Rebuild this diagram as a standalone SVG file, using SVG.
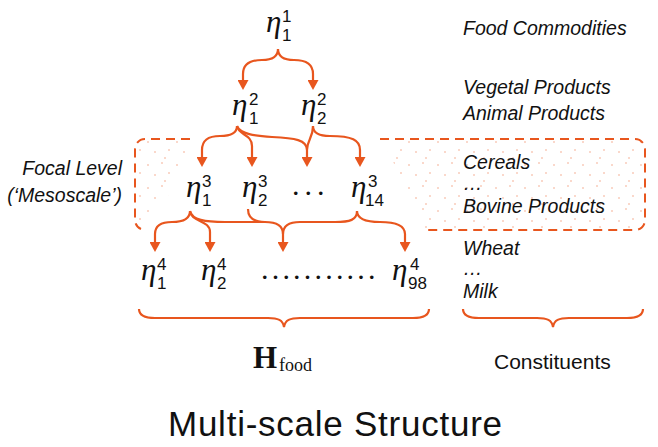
<svg xmlns="http://www.w3.org/2000/svg" width="658" height="447" viewBox="0 0 658 447">
<style>
.eta{font-family:"Liberation Serif","DejaVu Serif",serif;font-style:italic;font-size:31px;fill:#111}
.idx{font-family:"Liberation Sans","DejaVu Sans",sans-serif;font-size:17px;fill:#111}
.dots{font-family:"Liberation Serif",serif;font-size:30px;fill:#111}
.lbl{font-family:"Liberation Sans","DejaVu Sans",sans-serif;font-style:italic;font-size:19.5px;fill:#111}
.plain{font-family:"Liberation Sans","DejaVu Sans",sans-serif;font-size:21px;fill:#111}
.title{font-family:"Liberation Sans","DejaVu Sans",sans-serif;font-size:35px;fill:#111}
.conn{fill:none;stroke:#e8561e;stroke-width:2.2}
.brace{fill:none;stroke:#e8561e;stroke-width:2.2}
.focal{fill:none;stroke:#e8561e;stroke-width:2;stroke-dasharray:9 6}
</style>
<defs>
<marker id="ah" viewBox="0 0 10 11" refX="0" refY="5.5" markerWidth="10" markerHeight="11" markerUnits="userSpaceOnUse" orient="auto">
<path d="M0,0 L10,5.5 L0,11 z" fill="#e8561e"/>
</marker>
<pattern id="stip" width="29" height="23" patternUnits="userSpaceOnUse">
<g fill="#e8561e" opacity="0.65">
<circle cx="3" cy="4" r="0.7"/>
<circle cx="17" cy="2" r="0.7"/>
<circle cx="24" cy="12" r="0.7"/>
<circle cx="10" cy="14" r="0.7"/>
<circle cx="20" cy="20" r="0.7"/>
</g>
</pattern>
</defs>
<rect width="658" height="447" fill="#fff"/>

<g id="focal-level">
<polygon points="138,141 190,141 172,190 146,226 138,226" fill="url(#stip)"/>
<polygon points="383,141 643,141 643,228 425,228" fill="url(#stip)"/>
<path class="focal" d="M190,139 H145 A10,10 0 0 0 135,149 V220 A10,10 0 0 0 141,229"/>
<path class="focal" d="M380,139 H635 A10,10 0 0 1 645,149 V220 A10,10 0 0 1 635,230 H427"/>
</g>

<g id="connectors">
<path class="conn" d="M278,49 C278,57 272,60 262,60 C250,60 243,64 243,74 L243,80" marker-end="url(#ah)"/>
<path class="conn" d="M278,49 C278,57 284,60 294,60 C306,60 313,64 313,74 L313,80" marker-end="url(#ah)"/>

<path class="conn" d="M237,126 C237,133 230,136 220,136 C208,136 202,140 202,150 L202,157" marker-end="url(#ah)"/>
<path class="conn" d="M237,126 C238,135 252,134 252,146 L252,157" marker-end="url(#ah)"/>
<path class="conn" d="M237,126 C240,134 255,136 272,137 C295,138 307,140 307,150 L307,157" marker-end="url(#ah)"/>
<path class="conn" d="M313,126 C313,138 307,140 307,150"/>
<path class="conn" d="M313,126 C313,133 320,136 330,136 C352,136 360,140 360,150 L360,157" marker-end="url(#ah)"/>

<path class="conn" d="M190,211 C190,219 183,222 172,222 C161,222 155,226 155,234 L155,242" marker-end="url(#ah)"/>
<path class="conn" d="M190,211 C191,222 210,220 210,232 L210,242" marker-end="url(#ah)"/>
<path class="conn" d="M190,211 C192,220 205,222 225,222 L265,222 C277,222 283,226 283,234 L283,242" marker-end="url(#ah)"/>
<path class="conn" d="M248,209 C248,218 254,222 265,222"/>
<path class="conn" d="M357,211 C357,220 350,222 335,222 L300,222 C289,222 283,226 283,234"/>
<path class="conn" d="M357,211 C357,218 364,222 380,222 C398,222 405,226 405,234 L405,242" marker-end="url(#ah)"/>
</g>

<g id="n1_1"><text class="eta" x="266" y="32">η</text><text class="idx" x="282" y="22">1</text><text class="idx" x="282" y="41">1</text></g>
<g id="n2_1"><text class="eta" x="232" y="115">η</text><text class="idx" x="249" y="105">2</text><text class="idx" x="249" y="124">1</text></g>
<g id="n2_2"><text class="eta" x="301" y="115">η</text><text class="idx" x="317" y="105">2</text><text class="idx" x="317" y="124">2</text></g>
<g id="n3_1"><text class="eta" x="186" y="197">η</text><text class="idx" x="202" y="187">3</text><text class="idx" x="202" y="206">1</text></g>
<g id="n3_2"><text class="eta" x="242" y="197">η</text><text class="idx" x="258" y="187">3</text><text class="idx" x="258" y="206">2</text></g>
<g id="n3_dots"><text class="dots" x="292" y="195" letter-spacing="5">...</text></g>
<g id="n3_14"><text class="eta" x="351" y="197">η</text><text class="idx" x="368" y="187">3</text><text class="idx" x="365" y="206">14</text></g>
<g id="n4_1"><text class="eta" x="141" y="280">η</text><text class="idx" x="157" y="270">4</text><text class="idx" x="157" y="289">1</text></g>
<g id="n4_2"><text class="eta" x="201" y="280">η</text><text class="idx" x="217" y="270">4</text><text class="idx" x="217" y="289">2</text></g>
<g id="n4_dots"><text class="dots" x="261" y="279" letter-spacing="3.2">...........</text></g>
<g id="n4_98"><text class="eta" x="392" y="280">η</text><text class="idx" x="410" y="270">4</text><text class="idx" x="408" y="289">98</text></g>

<g id="labels">
<text class="lbl" x="463" y="35">Food Commodities</text>
<text class="lbl" x="463" y="94">Vegetal Products</text>
<text class="lbl" x="463" y="120">Animal Products</text>
<text class="lbl" x="463" y="169">Cereals</text>
<text class="lbl" x="463" y="190">…</text>
<text class="lbl" x="463" y="213">Bovine Products</text>
<text class="lbl" x="463" y="255">Wheat</text>
<text class="lbl" x="463" y="275">…</text>
<text class="lbl" x="463" y="298">Milk</text>
<text class="lbl" x="122" y="175" text-anchor="end">Focal Level</text>
<text class="lbl" x="122" y="202" text-anchor="end">(‘Mesoscale’)</text>
</g>

<g id="braces">
<path class="brace" d="M139,309 C139,316 145,318 155,318 L268,318 C278,318 283,320 284,327 C285,320 290,318 300,318 L413,318 C423,318 429,316 429,309"/>
<path class="brace" d="M463,309 C463,316 469,318 479,318 L537,318 C547,318 552,320 553,327 C554,320 559,318 569,318 L627,318 C637,318 643,316 643,309"/>
</g>

<g id="hfood"><text x="253" y="368" font-family="Liberation Serif,serif" font-weight="bold" font-size="31" fill="#111">H</text><text x="279" y="371" font-family="Liberation Serif,serif" font-size="18" fill="#111">food</text></g>
<text class="plain" x="494" y="369">Constituents</text>
<text class="title" x="168" y="436" textLength="334" lengthAdjust="spacing">Multi-scale Structure</text>
</svg>
